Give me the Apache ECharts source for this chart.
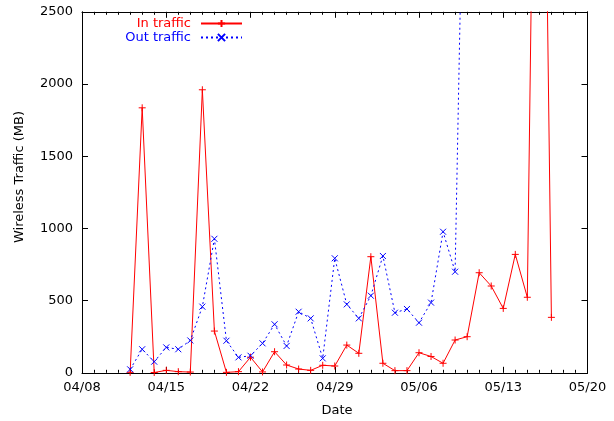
<!DOCTYPE html>
<html>
<head>
<meta charset="utf-8">
<script src="https://cdn.jsdelivr.net/npm/echarts@6/dist/echarts.min.js"></script>
<style>
  html, body { margin: 0; padding: 0; background: #fff; }
  #chart { width: 614px; height: 421px; }
</style>
</head>
<body>
<div id="chart"></div>
<script>
// Daily wireless traffic, April–May
const YEAR = 2011;
const startDate = '04/08';
const endDate = '05/20';

const inDates = ['04/12','04/13','04/14','04/15','04/16','04/17','04/18','04/19','04/20','04/21',
  '04/22','04/23','04/24','04/25','04/26','04/27','04/28','04/29','04/30','05/01',
  '05/02','05/03','05/04','05/05','05/06','05/07','05/08','05/09','05/10','05/11',
  '05/12','05/13','05/14','05/15','05/16','05/17'];
const inTraffic = [3, 1835, 2, 17, 8, 5, 1960, 289, 3, 8,
  108, 6, 146, 54, 26, 17, 52, 47, 192, 135,
  804, 66, 15, 15, 139, 113, 66, 227, 250, 693,
  601, 446, 820, 523, 6900, 384];

const outDates = ['04/12','04/13','04/14','04/15','04/16','04/17','04/18','04/19','04/20','04/21',
  '04/22','04/23','04/24','04/25','04/26','04/27','04/28','04/29','04/30','05/01',
  '05/02','05/03','05/04','05/05','05/06','05/07','05/08','05/09','05/10'];
const outTraffic = [24, 163, 77, 176, 163, 224, 458, 928, 222, 107,
  118, 204, 336, 186, 423, 377, 100, 793, 474, 377,
  534, 809, 416, 442, 347, 486, 977, 700, 5000];

const yTicks = [0, 500, 1000, 1500, 2000, 2500];

const DAY = 86400000;
function toTime(md) {
  const [m, d] = md.split('/').map(Number);
  return Date.UTC(YEAR, m - 1, d);
}
const t0 = toTime(startDate);
// x positions are days since the first labelled date
function dayIndex(md) { return Math.round((toTime(md) - t0) / DAY); }
function dayLabel(v) {
  const dt = new Date(t0 + v * DAY);
  const mm = String(dt.getUTCMonth() + 1).padStart(2, '0');
  const dd = String(dt.getUTCDate()).padStart(2, '0');
  return mm + '/' + dd;
}

const inData = inDates.map((d, i) => [dayIndex(d), inTraffic[i]]);
const outData = outDates.map((d, i) => [dayIndex(d), outTraffic[i]]);

const FONT = 'DejaVu Sans';
const FS = 13;
const plusPath = 'path://M5,0L5,10M0,5L10,5';
const crossPath = 'path://M0,0L10,10M10,0L0,10';

const xCommon = {
  type: 'value',
  min: 0,
  max: dayIndex(endDate),
  interval: 7,
  splitLine: { show: false },
  axisLine: { show: true, onZero: false, lineStyle: { color: '#000', width: 1 } },
  axisTick: { show: true, inside: true, length: 6, lineStyle: { color: '#000' } },
  minorTick: { show: true, splitNumber: 7, length: 3, lineStyle: { color: '#000' } },
  minorSplitLine: { show: false }
};
const yCommon = {
  type: 'value',
  min: yTicks[0],
  max: yTicks[yTicks.length - 1],
  interval: yTicks[1] - yTicks[0],
  splitLine: { show: false },
  axisLine: { show: true, onZero: false, lineStyle: { color: '#000', width: 1 } },
  axisTick: { show: true, inside: true, length: 6, lineStyle: { color: '#000' } }
};

const chart = echarts.init(document.getElementById('chart'), null, { renderer: 'canvas' });
chart.setOption({
  backgroundColor: '#fff',
  animation: false,
  textStyle: { fontFamily: FONT },
  grid: { left: 82, right: 26.5, top: 11.8, bottom: 48.2, containLabel: false },
  xAxis: [
    Object.assign({}, xCommon, {
      position: 'bottom',
      axisLabel: { show: true, margin: 8, color: '#000', fontSize: FS, fontFamily: FONT,
        formatter: dayLabel }
    }),
    Object.assign({}, xCommon, { position: 'top', axisLabel: { show: false } })
  ],
  yAxis: [
    Object.assign({}, yCommon, {
      position: 'left',
      axisLabel: { show: true, margin: 9, color: '#000', fontSize: FS, fontFamily: FONT,
        formatter: (v) => String(v) }
    }),
    Object.assign({}, yCommon, { position: 'right', axisLabel: { show: false } })
  ],
  legend: {
    orient: 'vertical',
    right: 371,
    top: 17,
    padding: 0,
    align: 'right',
    itemWidth: 41,
    itemHeight: 9,
    itemGap: 1,
    selectedMode: false,
    textStyle: { fontSize: FS, fontFamily: FONT, padding: [0, 5, 0, 0] },
    data: [
      { name: 'In traffic', textStyle: { color: '#ff0000' } },
      { name: 'Out traffic', textStyle: { color: '#0000ff' } }
    ]
  },
  graphic: [
    {
      type: 'text', x: 337, y: 411,
      style: { text: 'Date', fontSize: FS, fontFamily: FONT, fill: '#000',
        align: 'center', verticalAlign: 'middle' }
    },
    {
      type: 'text', x: 20, y: 177, rotation: Math.PI / 2,
      style: { text: 'Wireless Traffic (MB)', fontSize: FS, fontFamily: FONT, fill: '#000',
        align: 'center', verticalAlign: 'middle' }
    }
  ],
  series: [
    {
      name: 'In traffic',
      type: 'line',
      data: inData,
      clip: true,
      symbol: plusPath,
      symbolSize: 7,
      showAllSymbol: true,
      lineStyle: { color: '#ff0000', width: 1 },
      itemStyle: { color: '#ff0000', borderColor: '#ff0000', borderWidth: 1 }
    },
    {
      name: 'Out traffic',
      type: 'line',
      data: outData,
      clip: true,
      symbol: crossPath,
      symbolSize: 6,
      showAllSymbol: true,
      lineStyle: { color: '#0000ff', width: 1, type: [2, 3] },
      itemStyle: { color: '#0000ff', borderColor: '#0000ff', borderWidth: 1 }
    }
  ]
});
</script>
</body>
</html>
